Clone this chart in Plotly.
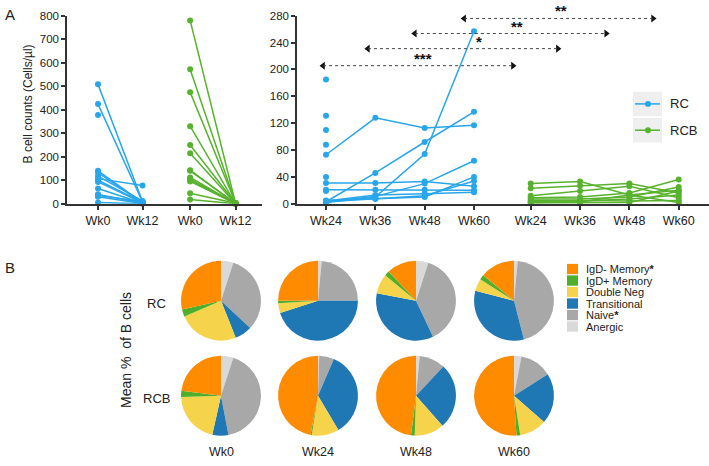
import plotly.graph_objects as go

W, H = 709, 466
FONT = "Arial, Liberation Sans, sans-serif"
BLUE = "#29A6EA"
GREEN = "#58B22E"

# ---------------- Panel A data ----------------
left_ticks = ["Wk0", "Wk12", "Wk0", "Wk12"]
left_pos_rc = [0, 1]
left_pos_rcb = [2.07, 3.09]
rc_wk0 = [508, 424, 378, 140, 133, 118, 107, 100, 93, 65, 40, 35, 30, 5]
rc_wk12 = [10, 8, None, 5, 3, 12, 78, 6, 4, 2, 3, 10, 1, 0]
rcb_wk0 = [780, 572, 475, 330, 250, 215, 143, 140, 112, 105, 100, 95, 45, 18]
rcb_wk12 = [2, 1, 3, 0, 2, 1, 0, 3, 1, 2, 0, 1, 2, 0]

right_ticks = ["Wk24", "Wk36", "Wk48", "Wk60", "Wk24", "Wk36", "Wk48", "Wk60"]
right_pos_rc = [0, 1, 2, 3]
right_pos_rcb = [4.15, 5.15, 6.15, 7.15]
rc_wk24 = [185, 131, 110, 88, 73, 40, 31, 21, 19, 5, 4, 3, 3, 2, 3]
rc_wk36 = [None, None, None, None, 128, None, 31, 21, None, 8, 13, 46, 11, 10, 7]
rc_wk48 = [None, None, None, None, 113, None, 33, 21, None, 10, 15, 92, 30, 74, 12]
rc_wk60 = [None, None, None, None, 117, None, 26, 20, None, 40, 17, 137, 64, 257, 34]
rcb_wk24 = [30, 23, 12, 9, 7, 5, 3, 2, 1]
rcb_wk36 = [33, 27, 19, 10, 7, 4, 5, 3, 2]
rcb_wk48 = [13, 30, 26, 16, 10, 7, 4, 13, 2]
rcb_wk60 = [20, 16, 9, 36, 25, 13, 5, 2, 19]

# significance comparisons (RC vs RCB)
sig_start = [-0.06, 0.85, 1.8, 2.8]
sig_end = [3.79, 4.70, 5.68, 6.63]
sig_y = [205.6, 231, 253.5, 276]
sig_labels = ["***", "*", "**", "**"]
sig_label_x = [1.97, 3.10, 3.87, 4.76]

# ---------------- Panel B data ----------------
subsets = ["Anergic", "Naive", "Transitional", "Double Neg", "IgD+ Memory", "IgD- Memory"]
subset_colors = ["#D9D9D9", "#A8A8A8", "#1F78B4", "#F5D44B", "#4DAF2A", "#FF8C00"]
pie_weeks = ["Wk0", "Wk24", "Wk48", "Wk60"]
pie_groups = ["RC", "RCB"]
rc_pies = [
    [5, 32, 7, 24.5, 3, 28.5],
    [1.5, 23.5, 45, 4, 1, 25],
    [5, 38, 35, 8, 2, 12],
    [1.5, 44.5, 33, 5, 2, 14],
]
rcb_pies = [
    [5, 42, 6.5, 21, 2.5, 23],
    [0.5, 6, 35, 11, 0.5, 47],
    [1.5, 10.5, 26.5, 12, 1.5, 48],
    [3, 13, 20.5, 11, 1.5, 51],
]
STAR = "<b>*</b>"
legend_labels = ["IgD- Memory" + STAR, "IgD+ Memory", "Double Neg",
                 "Transitional", "Naive" + STAR, "Anergic"]
legend_colors = ["#FF8C00", "#4DAF2A", "#F5D44B", "#1F78B4", "#A8A8A8", "#D9D9D9"]


def xp(px):
    return px / W


def yp(py):
    return 1 - py / H


fig = go.Figure()

# left panel A lines
for a, b in zip(rc_wk0, rc_wk12):
    fig.add_trace(go.Scatter(x=left_pos_rc, y=[a, b], mode="lines+markers",
                             line=dict(color=BLUE, width=1.5), marker=dict(size=6, color=BLUE),
                             xaxis="x", yaxis="y", showlegend=False, cliponaxis=False))
for a, b in zip(rcb_wk0, rcb_wk12):
    fig.add_trace(go.Scatter(x=left_pos_rcb, y=[a, b], mode="lines+markers",
                             line=dict(color=GREEN, width=1.5), marker=dict(size=6, color=GREEN),
                             xaxis="x", yaxis="y", showlegend=False, cliponaxis=False))

# right panel A lines
for row in zip(rc_wk24, rc_wk36, rc_wk48, rc_wk60):
    fig.add_trace(go.Scatter(x=right_pos_rc, y=list(row), mode="lines+markers",
                             line=dict(color=BLUE, width=1.5), marker=dict(size=6, color=BLUE),
                             connectgaps=False,
                             xaxis="x2", yaxis="y2", showlegend=False, cliponaxis=False))
for row in zip(rcb_wk24, rcb_wk36, rcb_wk48, rcb_wk60):
    fig.add_trace(go.Scatter(x=right_pos_rcb, y=list(row), mode="lines+markers",
                             line=dict(color=GREEN, width=1.5), marker=dict(size=6, color=GREEN),
                             xaxis="x2", yaxis="y2", showlegend=False, cliponaxis=False))

# significance arrows
shapes = []
annotations = []
for s, e, y, lab, lx in zip(sig_start, sig_end, sig_y, sig_labels, sig_label_x):
    shapes.append(dict(type="line", xref="x2", yref="y2", x0=s, x1=e, y0=y, y1=y,
                       line=dict(color="#444444", width=1, dash="dot")))
    fig.add_trace(go.Scatter(x=[s, e], y=[y, y], mode="markers",
                             marker=dict(symbol=["triangle-left", "triangle-right"], size=7,
                                         color="#111111"),
                             xaxis="x2", yaxis="y2", showlegend=False, cliponaxis=False,
                             hoverinfo="skip"))
    annotations.append(dict(xref="x2", yref="y2", x=lx, y=y, text="<b>" + lab + "</b>",
                            showarrow=False, yanchor="bottom", yshift=-3,
                            font=dict(size=15, color="#111111", family=FONT)))

# pies
pie_cx = [221, 318, 416, 514]
pie_cy = [302.5, 400]
R = 41
for gi, data in enumerate([rc_pies, rcb_pies]):
    for wi, vals in enumerate(data):
        cx, cy = pie_cx[wi], pie_cy[gi]
        fig.add_trace(go.Pie(labels=subsets, values=vals, sort=False, direction="clockwise",
                             rotation=0, textinfo="none", hoverinfo="label+percent",
                             marker=dict(colors=subset_colors, line=dict(width=0)),
                             domain=dict(x=[xp(cx - R), xp(cx + R)], y=[yp(cy + R), yp(cy - R)]),
                             showlegend=False, name=pie_groups[gi] + " " + pie_weeks[wi]))

axis_common = dict(showline=True, linecolor="#333333", linewidth=1.5, ticks="outside",
                   ticklen=4, tickwidth=1.5, tickcolor="#333333", showgrid=False,
                   zeroline=False)
xtf = dict(family=FONT, size=12.5, color="#222222")
ytf = dict(family=FONT, size=11.5, color="#222222")

fig.update_layout(
    width=W, height=H, autosize=False,
    margin=dict(l=0, r=0, t=0, b=0),
    paper_bgcolor="white", plot_bgcolor="white",
    font=dict(family=FONT, color="#222222"),
    xaxis=dict(domain=[xp(67), xp(262)], range=[-0.697, 3.685], anchor="y",
               tickvals=left_pos_rc + left_pos_rcb, ticktext=left_ticks, tickfont=xtf,
               **axis_common),
    yaxis=dict(domain=[yp(203), yp(10)], range=[0, 800], anchor="x", dtick=100,
               tickfont=ytf, **axis_common),
    xaxis2=dict(domain=[xp(297), xp(709)], range=[-0.588, 7.764], anchor="y2",
                tickvals=right_pos_rc + right_pos_rcb, ticktext=right_ticks, tickfont=xtf,
                **axis_common),
    yaxis2=dict(domain=[yp(203), yp(10)], range=[0, 280], anchor="x2", dtick=40,
                tickfont=ytf, **axis_common),
)

# manual legend for panel A
for i, (name, col) in enumerate([("RC", BLUE), ("RCB", GREEN)]):
    top = 88 + i * 27
    shapes.append(dict(type="rect", xref="paper", yref="paper", x0=xp(633), x1=xp(662),
                       y0=yp(top + 25), y1=yp(top), fillcolor="#EFEFEF", line=dict(width=0),
                       layer="below"))
    ym = top + 12.5
    shapes.append(dict(type="line", xref="paper", yref="paper", x0=xp(635), x1=xp(660),
                       y0=yp(ym), y1=yp(ym), line=dict(color=col, width=1.5)))
    shapes.append(dict(type="circle", xref="paper", yref="paper", x0=xp(645), x1=xp(651),
                       y0=yp(ym + 3), y1=yp(ym - 3), fillcolor=col, line=dict(width=0)))
    annotations.append(dict(xref="paper", yref="paper", x=xp(668), y=yp(ym), text=name,
                            showarrow=False, xanchor="left", yanchor="middle",
                            font=dict(size=13, family=FONT, color="#222222")))

# manual legend for panel B
for i, (lab, col) in enumerate(zip(legend_labels, legend_colors)):
    cy = 270 + i * 11.8
    shapes.append(dict(type="rect", xref="paper", yref="paper", x0=xp(567), x1=xp(578),
                       y0=yp(cy + 5.3), y1=yp(cy - 5.3), fillcolor=col, line=dict(width=0)))
    annotations.append(dict(xref="paper", yref="paper", x=xp(584), y=yp(cy), text=lab,
                            showarrow=False, xanchor="left", yanchor="middle",
                            font=dict(size=11, family=FONT, color="#222222")))

# texts
annotations += [
    dict(xref="paper", yref="paper", x=xp(3), y=yp(9), text="A", showarrow=False,
         xanchor="left", yanchor="middle", font=dict(size=15, family=FONT, color="#222222")),
    dict(xref="paper", yref="paper", x=xp(3), y=yp(268), text="B", showarrow=False,
         xanchor="left", yanchor="middle", font=dict(size=15, family=FONT, color="#222222")),
    dict(xref="paper", yref="paper", x=xp(28), y=yp(101), text="B cell counts (Cells/µl)",
         textangle=-90, showarrow=False, xanchor="center", yanchor="middle",
         font=dict(size=12, family=FONT, color="#222222")),
    dict(xref="paper", yref="paper", x=xp(126), y=yp(353), text="Mean %  of B cells",
         textangle=-90, showarrow=False, xanchor="center", yanchor="middle",
         font=dict(size=14, family=FONT, color="#222222")),
]
for gi, g in enumerate(pie_groups):
    annotations.append(dict(xref="paper", yref="paper", x=xp(156), y=yp(pie_cy[gi] + 3), text=g,
                            showarrow=False, xanchor="center", yanchor="middle",
                            font=dict(size=13, family=FONT, color="#222222")))
for wi, wk in enumerate(pie_weeks):
    annotations.append(dict(xref="paper", yref="paper", x=xp(pie_cx[wi]), y=yp(458), text=wk,
                            showarrow=False, xanchor="center", yanchor="middle",
                            font=dict(size=12.5, family=FONT, color="#222222")))

fig.update_layout(shapes=shapes, annotations=annotations)
fig.write_html("out.html", config={"displayModeBar": False},
               post_script="document.body.style.margin='0';document.body.style.overflow='hidden';")
